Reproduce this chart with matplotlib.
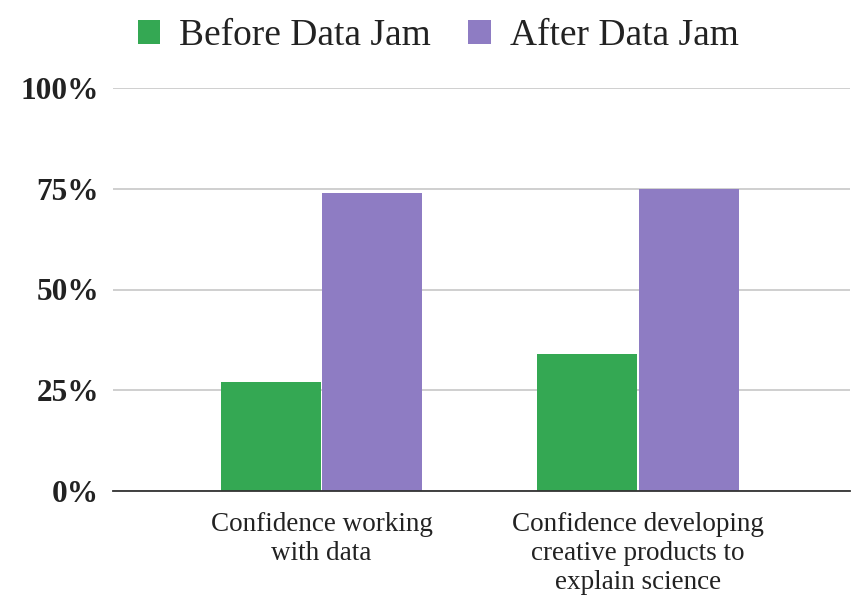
import matplotlib
matplotlib.use("Agg")
import matplotlib.pyplot as plt
import numpy as np
from matplotlib.patches import Patch

categories = ["Confidence working\nwith data", "Confidence developing\ncreative products to\nexplain science"]
series_names = ["Before Data Jam", "After Data Jam"]
before = [27, 34]
after = [74, 75]
yticks = [0, 25, 50, 75, 100]
ytick_labels = ["0%", "25%", "50%", "75%", "100%"]
colors = ["#34a853", "#8e7cc3"]

plt.rcParams['font.family'] = ['Liberation Serif', 'DejaVu Serif']

fig = plt.figure(figsize=(8.54, 6.0), dpi=100)
ax = fig.add_axes([0.132, 0.182, 0.863, 0.671])

x = np.arange(len(categories))
w = 0.316
gap = 0.003
ax.bar(x - w / 2 - gap, before, width=w, color=colors[0], zorder=3)
ax.bar(x + w / 2 + gap, after, width=w, color=colors[1], zorder=3)

ax.set_xlim(-0.66, 1.67)
ax.set_ylim(0, 100)
ax.set_yticks(yticks)
ax.set_yticklabels(ytick_labels, fontsize=22.5, fontweight='bold', color='#222222')
ax.set_xticks(x)
ax.set_xticklabels(categories, fontsize=19.5, color='#222222', linespacing=1.22)
ax.tick_params(axis='both', length=0)
ax.tick_params(axis='y', pad=10)
ax.tick_params(axis='x', pad=15)

ax.grid(axis='y', color='#cccccc', linewidth=1.3, zorder=0)
for s in ['top', 'right', 'left']:
    ax.spines[s].set_visible(False)
ax.spines['bottom'].set_color('#333333')
ax.spines['bottom'].set_linewidth(1.3)
ax.spines['bottom'].set_zorder(4)

handles = [Patch(facecolor=colors[0]), Patch(facecolor=colors[1])]
fig.legend(handles, series_names, loc='upper center', bbox_to_anchor=(0.513, 1.025),
           ncol=2, frameon=False, fontsize=27, handlelength=0.6, handleheight=0.6,
           handletextpad=0.5, columnspacing=1.0, labelcolor='#222222')

fig.savefig("out.png", dpi=100)
